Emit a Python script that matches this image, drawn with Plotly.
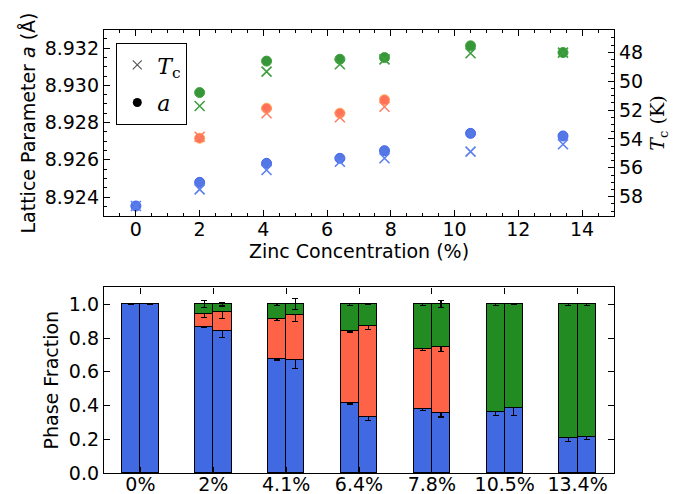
import plotly.graph_objects as go

# ---------------- Top panel data ----------------
zinc_blue = [0, 2, 4.1, 6.4, 7.8, 10.5, 13.4]
a_blue = [8.92352, 8.92479, 8.92581, 8.92608, 8.92649, 8.92742, 8.92728]
tc_blue = [58.64, 57.49, 56.15, 55.58, 55.34, 54.88, 54.37]

zinc_orange = [2, 4.1, 6.4, 7.8]
a_orange = [8.92716, 8.92877, 8.92850, 8.92922]
tc_orange = [53.85, 52.22, 52.50, 51.77]

zinc_green = [2, 4.1, 6.4, 7.8, 10.5, 13.4]
a_green = [8.92961, 8.93130, 8.93140, 8.93149, 8.93212, 8.93176]
tc_green = [51.72, 49.34, 48.83, 48.49, 48.07, 48.03]

# ---------------- Bottom panel data ----------------
categories = ["0%", "2%", "4.1%", "6.4%", "7.8%", "10.5%", "13.4%"]

blue_A = [1.0, 0.865, 0.674, 0.411, 0.376, 0.358, 0.204]
orange_A = [0.0, 0.075, 0.235, 0.429, 0.357, 0.0, 0.0]
green_A = [0.0, 0.060, 0.091, 0.160, 0.267, 0.642, 0.796]
blue_err_A = [None, 0.003, 0.004, 0.004, 0.005, 0.018, 0.018]
orange_err_A = [None, 0.02, 0.005, 0.004, 0.005, None, None]
green_err_A = [None, 0.02, 0.006, 0.006, 0.006, 0.006, 0.006]

blue_B = [1.0, 0.842, 0.666, 0.328, 0.352, 0.382, 0.210]
orange_B = [0.0, 0.111, 0.269, 0.542, 0.391, 0.0, 0.0]
green_B = [0.0, 0.047, 0.065, 0.130, 0.257, 0.618, 0.790]
blue_err_B = [None, 0.04, 0.048, 0.018, 0.02, 0.04, 0.01]
orange_err_B = [None, 0.036, 0.037, 0.02, 0.024, None, None]
green_err_B = [None, 0.01, 0.032, 0.003, 0.02, None, 0.006]

BLUE = "#4169E1"
ORANGE = "#FF6347"
GREEN = "#228B22"
FONT = "DejaVu Sans"
FS = 19

fig = go.Figure()

# Tc crosses (right axis)
for xs, ys, col in [(zinc_blue, tc_blue, "#5b7ff0"), (zinc_orange, tc_orange, "#ff7f66"),
                    (zinc_green, tc_green, "#3f9f3f")]:
    fig.add_trace(go.Scatter(x=xs, y=ys, mode="markers", xaxis="x", yaxis="y2",
                             marker=dict(symbol="x-thin", size=10, line=dict(color=col, width=1.6)),
                             showlegend=False))

# a circles (left axis)
for xs, ys, col, edge in [(zinc_blue, a_blue, BLUE, "#2d55f5"), (zinc_orange, a_orange, ORANGE, "#FFA040"),
                          (zinc_green, a_green, GREEN, "#2a9a2a")]:
    fig.add_trace(go.Scatter(x=xs, y=ys, mode="markers", xaxis="x", yaxis="y",
                             marker=dict(symbol="circle", size=10, color=col, opacity=0.9,
                                         line=dict(color=edge, width=1)),
                             showlegend=False))

# legend entries
fig.add_trace(go.Scatter(x=[None], y=[None], mode="markers", xaxis="x", yaxis="y",
                         name="<i>T</i><sub>c</sub>", legendgroup="g1",
                         marker=dict(symbol="x-thin", size=9, line=dict(color="#555555", width=1.2))))
fig.add_trace(go.Scatter(x=[None], y=[None], mode="markers", xaxis="x", yaxis="y",
                         name="<i>a</i>", legendgroup="g2",
                         marker=dict(symbol="circle", size=9, color="black")))

# Bottom stacked bars
pos = list(range(len(categories)))
bw = 0.25
for offset, blue, orange, green, be, oe, ge in [
        (-bw / 2, blue_A, orange_A, green_A, blue_err_A, orange_err_A, green_err_A),
        (bw / 2, blue_B, orange_B, green_B, blue_err_B, orange_err_B, green_err_B)]:
    xs = [p + offset for p in pos]
    for vals, errs, col in [(blue, be, BLUE), (orange, oe, ORANGE), (green, ge, GREEN)]:
        shown = [v if v > 0 else None for v in vals]
        fig.add_trace(go.Bar(x=xs, y=shown, width=bw, xaxis="x2", yaxis="y3",
                             marker=dict(color=col, line=dict(color="black", width=1.3)),
                             error_y=dict(type="data", array=errs, color="black",
                                          thickness=1.2, width=3),
                             showlegend=False))

axis_common = dict(showline=True, linecolor="black", linewidth=1.3, ticks="inside",
                   ticklen=6, tickcolor="black", tickwidth=1, showgrid=False, zeroline=False,
                   automargin=False,
                   tickfont=dict(family=FONT, size=FS, color="black"))

fig.update_layout(
    width=681, height=494,
    margin=dict(l=104, r=67, t=30, b=21, autoexpand=False),
    paper_bgcolor="white", plot_bgcolor="white",
    barmode="stack", bargap=0,
    font=dict(family=FONT, size=FS, color="black"),
    xaxis=dict(**axis_common, domain=[0, 1], anchor="y", range=[-1, 15], dtick=2, mirror="ticks",
               minor=dict(dtick=0.5, ticks="inside", ticklen=3, tickcolor="black"),
               ticklabelstandoff=-4,
               title=dict(text="Zinc Concentration (%)", standoff=3,
                          font=dict(family=FONT, size=FS))),
    yaxis=dict(**axis_common, domain=[0.580, 1], anchor="x", range=[8.92298, 8.93297],
               dtick=0.002, tickformat=".3f",
               minor=dict(dtick=0.0005, ticks="inside", ticklen=3, tickcolor="black"),
               ticklabelstandoff=0,
               title=dict(text="Lattice Parameter <i>a</i> (Å)", standoff=3,
                          font=dict(family=FONT, size=FS))),
    yaxis2=dict(**axis_common, overlaying="y", side="right", anchor="x",
                range=[59.34, 46.46], dtick=2,
                minor=dict(dtick=0.5, ticks="inside", ticklen=3, tickcolor="black"),
                ticklabelstandoff=0,
                title=dict(text="<i>T</i><sub>c</sub> (K)", standoff=8,
                           font=dict(family="DejaVu Serif", size=FS))),
    xaxis2=dict(**axis_common, domain=[0, 1], anchor="y3", range=[-0.5, 6.5],
                tickvals=pos, ticktext=categories, mirror="ticks", ticklabelstandoff=-6),
    yaxis3=dict(**axis_common, domain=[0, 0.419], anchor="x2", range=[0, 1.1], dtick=0.2,
                tickformat=".1f", mirror="ticks", ticklabelstandoff=0,
                title=dict(text="Phase Fraction", standoff=5,
                           font=dict(family=FONT, size=FS))),
    legend=dict(x=0.0235, y=0.971, xanchor="left", yanchor="top",
                bordercolor="black", borderwidth=1.3, bgcolor="white",
                font=dict(family="DejaVu Serif", size=22, color="black"),
                tracegroupgap=6, itemwidth=30),
)

# remove the default 8px page margin so the figure sits at the window's origin
fig.write_html("out.html", config={"displayModeBar": False},
               post_script="document.body.style.margin='0';")
